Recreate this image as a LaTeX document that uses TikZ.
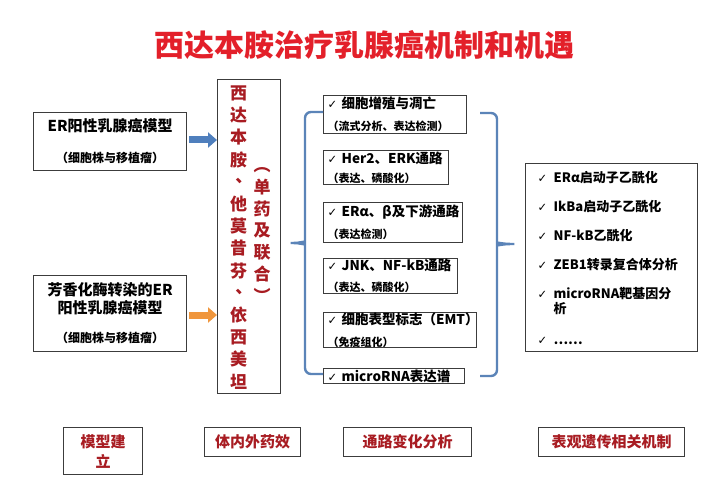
\documentclass[tikz,border=0pt]{standalone}
\usepackage{fontspec}
\setmainfont{Noto Sans CJK SC}
\newfontfamily\symf{DejaVu Sans}
\usetikzlibrary{arrows.meta}
\definecolor{titlered}{HTML}{E3202A}
\definecolor{darkred}{HTML}{A81C22}
\definecolor{boxgray}{HTML}{3C3C3C}
\definecolor{arrowblue}{HTML}{4F7FBD}
\definecolor{arroworange}{HTML}{F0963C}
\definecolor{bracecol}{HTML}{5B84B8}
\newcommand{\fsz}[2]{\fontsize{#1bp}{#2bp}\selectfont}
\newcommand{\ckm}{\makebox[14bp][l]{{\symf\fontsize{11.5bp}{11bp}\selectfont ✓}}}
\newcommand{\ckr}{\makebox[16bp][l]{{\symf\fontsize{11.5bp}{11bp}\selectfont ✓}}}
\newcommand{\vdun}{\makebox[1em][l]{\hspace{0.32em}\raisebox{0.32em}{、}}}
\tikzset{
  x=1bp, y=-1bp,
  frame/.style={draw=boxgray, line width=1.2bp, anchor=north west},
  mbox/.style={frame, align=left, inner xsep=4bp, inner ysep=0bp},
  lbox/.style={frame, align=center, inner xsep=4bp, inner ysep=0bp},
  tbox/.style={frame, align=center, text=darkred, inner sep=0bp, font=\bfseries\fsz{15}{20}},
  fatarrow/.style={line width=7bp, -{Triangle[length=9bp,width=15bp]}},
  bracepath/.style={draw=bracecol, line width=2.4bp, rounded corners=6bp},
}
\begin{document}
\begin{tikzpicture}
\useasboundingbox[fill=white] (0,0) rectangle (720,492);

% title
\node[text=titlered, font=\bfseries\fsz{30}{34}, inner sep=0pt] (title) at (364,45) {西达本胺治疗乳腺癌机制和机遇};

% left model boxes
\node[lbox, text width=145bp, minimum height=58bp, font=\bfseries\fsz{15}{31}] (b1) at (33,112)
  {ER阳性乳腺癌模型\\\fsz{12}{31}（细胞株与移植瘤）};
\node[lbox, text width=145bp, minimum height=76bp, font=\bfseries\fsz{15}{18}] (b2) at (33,275)
  {芳香化酶转染的ER\\阳性乳腺癌模型\\[11bp]\fsz{12}{18}（细胞株与移植瘤）};

% drug box
\node[frame, minimum width=63bp, minimum height=314bp, inner sep=0pt] (drug) at (217,79) {};
\node[align=center, text=darkred, font=\bfseries\fsz{17}{22.2}, inner sep=0pt] (dcol1) at (238.5,237.5)
  {西\\达\\本\\胺\\\vdun\\他\\莫\\昔\\芬\\\vdun\\依\\西\\美\\坦};
\node[align=center, text=darkred, font=\bfseries\fsz{17}{21.7}, inner sep=0pt] (dcol2) at (262,235)
  {︵\\单\\药\\及\\联\\合\\︶};

% arrows
\draw[fatarrow, draw=arrowblue, fill=arrowblue] ([xshift=2bp]b1.east |- 0,140) -- (drug.west |- 0,140);
\draw[fatarrow, draw=arroworange, fill=arroworange] ([xshift=2bp]b2.east |- 0,315) -- (drug.west |- 0,315);

% middle boxes
\node[mbox, text width=135bp, minimum height=38bp, font=\bfseries\fsz{13.5}{22}] (m1) at (323,95)
  {\ckm 细胞增殖与凋亡\\\fsz{11}{22}（流式分析、表达检测）};
\node[mbox, text width=117bp, minimum height=34bp, font=\bfseries\fsz{13.5}{19}] (m2) at (323,150)
  {\ckm Her2、ERK通路\\\fsz{11}{19}（表达、磷酸化）};
\node[mbox, text width=131bp, minimum height=40bp, font=\bfseries\fsz{13.5}{22}] (m3) at (323,202)
  {\ckm ERα、β及下游通路\\\fsz{11}{22}（表达检测）};
\node[mbox, text width=126bp, minimum height=35bp, font=\bfseries\fsz{13.5}{21}] (m4) at (323,258)
  {\ckm JNK、NF-kB通路\\\fsz{11}{21}（表达、磷酸化）};
\node[mbox, text width=145bp, minimum height=35bp, font=\bfseries\fsz{13.5}{22}] (m5) at (323,312)
  {\ckm 细胞表型标志（EMT）\\\fsz{11}{22}（免疫组化）};
\node[mbox, text width=133bp, minimum height=15bp, font=\bfseries\fsz{13.5}{15}] (m6) at (323,368)
  {\ckm microRNA表达谱};

% left brace
\coordinate (lbt) at (m1.west |- 0,112);
\coordinate (lbb) at (m6.west |- 0,374);
\coordinate (lbtip) at ([xshift=6bp]drug.east |- 0,243);
\draw[bracepath] (lbt) -- (305,112) -- (305,236)
  .. controls (305,241) and (300,243) .. (lbtip)
  .. controls (300,243) and (305,245) .. (305,250) -- (305,374) -- (lbb);

% right box
\node[frame, align=left, text width=148bp, minimum height=188bp, inner xsep=12bp, inner ysep=0bp, font=\bfseries\fsz{13}{15}] (rb) at (525,163)
  {\ckr ERα启动子乙酰化\\[14bp]
   \ckr IkBa启动子乙酰化\\[14bp]
   \ckr NF-kB乙酰化\\[14bp]
   \ckr ZEB1转录复合体分析\\[14bp]
   \ckr microRNA靶基因分\\
   \hspace*{16bp}析\\[16bp]
   \ckr ……};

% right brace
\coordinate (rbt) at (480,113);
\coordinate (rbb) at (480,376);
\coordinate (rbtip) at ([xshift=-7bp]rb.west |- 0,244);
\draw[bracepath] (rbt) -- (497,113) -- (497,237)
  .. controls (497,242) and (502,244) .. (rbtip)
  .. controls (502,244) and (497,246) .. (497,251) -- (497,376) -- (rbb);

% bottom labels
\node[tbox, text width=79bp, minimum height=47bp] (t1) at (63,427) {模型建\\立};
\node[tbox, minimum width=96bp, minimum height=29bp] (t2) at (204,427) {体内外药效};
\node[tbox, minimum width=128bp, minimum height=29bp] (t3) at (343,427) {通路变化分析};
\node[tbox, minimum width=146bp, minimum height=29bp] (t4) at (538,427) {表观遗传相关机制};
\end{tikzpicture}
\end{document}
